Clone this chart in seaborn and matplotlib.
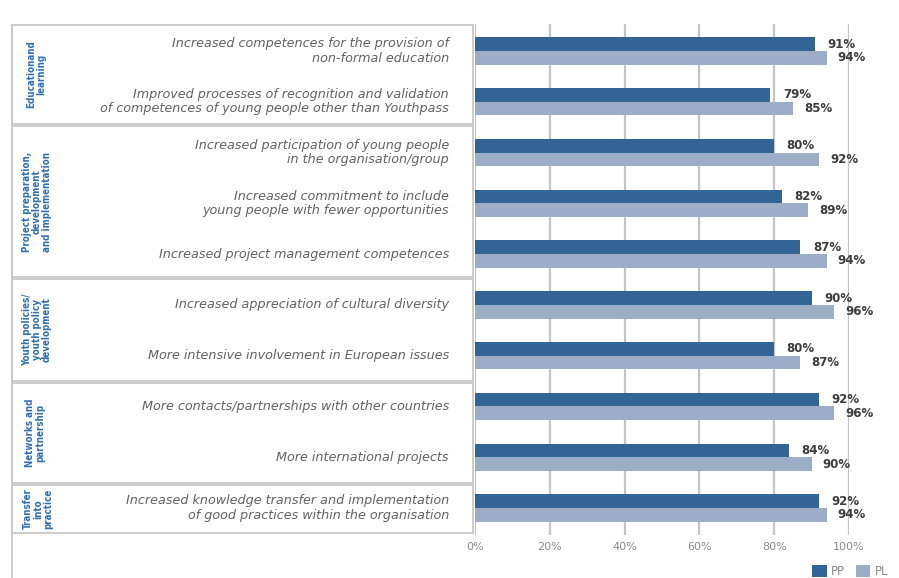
import matplotlib
matplotlib.use("Agg")
import matplotlib.pyplot as plt
from matplotlib.patches import Rectangle
from matplotlib.lines import Line2D
import seaborn as sns
import pandas as pd

# ---- data ----
items = [
    "Increased competences for the provision of\nnon-formal education",
    "Improved processes of recognition and validation\nof competences of young people other than Youthpass",
    "Increased participation of young people\nin the organisation/group",
    "Increased commitment to include\nyoung people with fewer opportunities",
    "Increased project management competences",
    "Increased appreciation of cultural diversity",
    "More intensive involvement in European issues",
    "More contacts/partnerships with other countries",
    "More international projects",
    "Increased knowledge transfer and implementation\nof good practices within the organisation",
]
pp_values = [91, 79, 80, 82, 87, 90, 80, 92, 84, 92]
pl_values = [94, 85, 92, 89, 94, 96, 87, 96, 90, 94]
series = ["PP", "PL"]
groups = [
    "Educationand\nlearning",
    "Project preparation,\ndevelopment\nand implementation",
    "Youth policies/\nyouth policy\ndevelopment",
    "Networks and\npartnership",
    "Transfer\ninto\npractice",
]
x_ticks = [0, 20, 40, 60, 80, 100]
x_tick_labels = ["0%", "20%", "40%", "60%", "80%", "100%"]

colors = {"PP": "#336496", "PL": "#9dadc8"}

df = pd.DataFrame({
    "item": items * 2,
    "series": ["PP"] * len(items) + ["PL"] * len(items),
    "value": pp_values + pl_values,
})

W, H = 899, 578
fig = plt.figure(figsize=(W / 100, H / 100), dpi=100)
fig.patch.set_facecolor("white")

ax_left, ax_right = 475, 849
ax_top, ax_bottom = 24, 535
ax = fig.add_axes([ax_left / W, 1 - ax_bottom / H,
                   (ax_right - ax_left) / W, (ax_bottom - ax_top) / H])

sns.barplot(data=df, x="value", y="item", hue="series", hue_order=series,
            order=items, palette=colors, orient="h", width=0.54,
            saturation=1, ax=ax, legend=False, edgecolor="none")

ax.set_xlim(0, 100)
ax.set_ylim(len(items) - 0.47, -0.53)
ax.set_xticks(x_ticks)
ax.set_xticklabels(x_tick_labels, color="#8a8a8a", fontsize=8,
                   family="DejaVu Sans")
ax.set_yticks([])
ax.set_xlabel("")
ax.set_ylabel("")
ax.tick_params(axis="x", length=0, pad=5)
for s in ax.spines.values():
    s.set_visible(False)
ax.set_axisbelow(True)
ax.grid(axis="x", color="#c4c4c4", linewidth=1.6)
ax.grid(axis="y", visible=False)

# value labels
for cont, pad in zip(ax.containers, [9, 8]):
    ax.bar_label(cont, labels=[f"{int(round(b.get_width()))}%" for b in cont],
                 padding=pad, fontsize=8.5, fontweight="bold", color="#3c3c3c",
                 family="DejaVu Sans")

# item labels on the left, right-aligned
for i, lab in enumerate(items):
    y_data = ax.transData.transform((0, i))[1]
    fig.text(449 / W, y_data / H, lab, ha="right", va="center",
             multialignment="right", fontsize=9.2, style="italic",
             color="#626262", linespacing=1.15, family="DejaVu Sans")

# section boxes and group titles
boxes = [(25, 124), (126, 277), (279, 381), (383, 483), (485, 533)]
group_x = [36, 37, 37, 35, 38]
for (top, bot), name, gx in zip(boxes, groups, group_x):
    fig.patches.append(Rectangle((12 / W, 1 - bot / H), (473 - 12) / W,
                                 (bot - top) / H, transform=fig.transFigure,
                                 facecolor="none", edgecolor="#c8c8c8",
                                 linewidth=1.3))
    fig.text(gx / W, 1 - (top + bot) / 2 / H, name, rotation=90,
             ha="center", va="center", multialignment="center",
             fontsize=7, color="#2f6fb0", linespacing=1.0,
             fontweight="bold", fontstretch="condensed",
             family="DejaVu Sans")
fig.add_artist(Line2D([12 / W, 12 / W], [0, 1 - 25 / H],
                      transform=fig.transFigure, color="#c8c8c8", linewidth=1.3))

# legend
handles = [Rectangle((0, 0), 1, 1, facecolor=colors[s]) for s in series]
fig.legend(handles, series, loc="lower right", bbox_to_anchor=(1.0, -0.018),
           ncol=2, frameon=False, handlelength=1.2,
           handleheight=1.2, handletextpad=0.4, columnspacing=0.9,
           labelcolor="#8a8a8a", prop={"family": "DejaVu Sans", "size": 8.5})

fig.savefig("out.png", dpi=100, facecolor="white")
